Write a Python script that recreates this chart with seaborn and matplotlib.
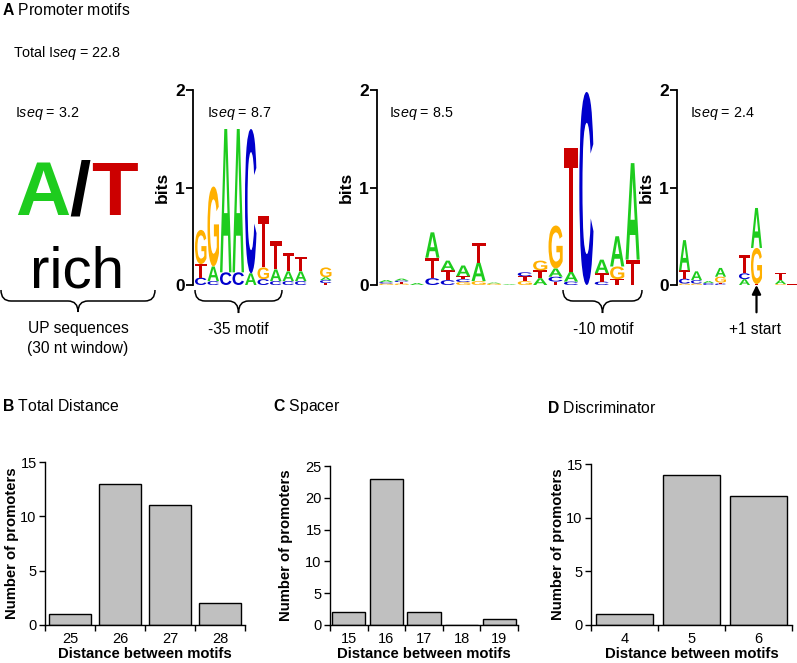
import numpy as np
import matplotlib
matplotlib.use("Agg")
import matplotlib.pyplot as plt
from matplotlib.textpath import TextPath
from matplotlib.font_manager import FontProperties
from matplotlib.patches import PathPatch
from matplotlib.path import Path
from matplotlib.transforms import Affine2D
import seaborn as sns

# histogram data (panels B, C, D)
total_dist = ["25", "26", "27", "28"]
total_count = [1, 13, 11, 2]
spacer_dist = ["15", "16", "17", "18", "19"]
spacer_count = [2, 23, 2, 0, 1]
discr_dist = ["4", "5", "6"]
discr_count = [1, 14, 12]

# sequence logos: letters per column bottom -> top, heights in bits
m35_letters = ["CTG", "CAG", "CA", "CA", "AC", "CGT", "CAT", "CAT", "CAT", "", "TCAG"]
m35_bits = [[.075, .14, .35], [.04, .15, .82], [.13, 1.47], [.13, 1.47], [.12, 1.48],
            [.06, .12, .53], [.04, .12, .29], [.04, .10, .19], [.04, .10, .15], [],
            [.02, .03, .03, .10]]

m10_letters = ["GCA", "GTCA", "A", "CTA", "CTA", "GCTA", "GAT", "GA", "A",
               "GTC", "ATG", "TCAG", "CAT", "C", "CTA", "TGA", "TA"]
m10_bits = [[.015, .015, .02], [.015, .015, .015, .02], [.02], [.07, .21, .26],
            [.05, .10, .10], [.03, .03, .03, .11], [.04, .19, .20], [.015, .01], [.008],
            [.04, .05, .04], [.07, .08, .10], [.035, .05, .085, .44], [.035, .10, 1.27],
            [1.98], [.035, .085, .14], [.06, .13, .31], [.26, .99]]

start_letters = ["GCTA", "GCA", "CA", "CTGA", "", "ACT", "TGA", "", "GAT", "T"]
start_bits = [[.015, .05, .085, .31], [.015, .035, .09], [.02, .02], [.015, .01, .06, .09],
              [], [.06, .06, .19], [.01, .37, .41], [], [.01, .04, .07], [.006]]

iseq_total = "22.8"
iseq_values = ["3.2", "8.7", "8.5", "2.4"]

base_colors = {"A": "#1ECC1E", "C": "#0000CC", "G": "#FFB000", "T": "#CC0000"}

sns.set_style("ticks")
plt.rcParams['font.family'] = ['Liberation Sans', 'DejaVu Sans']
plt.rcParams['mathtext.fontset'] = 'custom'
plt.rcParams['mathtext.rm'] = 'Liberation Sans'
plt.rcParams['mathtext.it'] = 'Liberation Sans:italic'
plt.rcParams['mathtext.bf'] = 'Liberation Sans:bold'
for k in ['text.color', 'axes.labelcolor', 'xtick.color', 'ytick.color', 'axes.edgecolor']:
    plt.rcParams[k] = 'black'

W, H = 797, 663
fig = plt.figure(figsize=(W / 100, H / 100), dpi=100)


def rect(left, top, right, bottom):
    # pixel box -> figure fraction
    return [left / W, 1 - bottom / H, (right - left) / W, (bottom - top) / H]


bold_font = FontProperties(family='Liberation Sans', weight='bold')
glyphs = {}


def draw_letter(ax, ch, x, y, w, h):
    if ch not in glyphs:
        glyphs[ch] = TextPath((0, 0), ch, size=1, prop=bold_font)
    p = glyphs[ch]
    bb = p.get_extents()
    tr = Affine2D().translate(-bb.x0, -bb.y0).scale(w / bb.width, h / bb.height).translate(x - w / 2, y)
    ax.add_patch(PathPatch(tr.transform_path(p), facecolor=base_colors[ch], edgecolor='none',
                           transform=ax.transData, clip_on=False))


def logo_axes(box, ncol, colw_px):
    ax = fig.add_axes(rect(*box))
    left_pad = 1.5 / colw_px
    ax.set_xlim(0.5 - left_pad, ncol + 0.5)
    ax.set_ylim(0, 2)
    for s in ['top', 'right', 'bottom']:
        ax.spines[s].set_visible(False)
    ax.spines['left'].set_linewidth(1.3)
    ax.set_xticks([])
    ax.set_yticks([0, 1, 2])
    ax.set_yticklabels(["0", "1", "2"], fontsize=12.5, fontweight='bold')
    ax.tick_params(axis='y', length=5, width=1.3, pad=1)
    ax.set_ylabel("bits", fontsize=12.5, fontweight='bold', labelpad=4)
    ax.patch.set_alpha(0)
    return ax


def draw_logo(ax, letters, bits):
    for i, (col, hs) in enumerate(zip(letters, bits), start=1):
        y = 0
        for ch, h in zip(col, hs):
            draw_letter(ax, ch, i, y, 0.92, h)
            y += h


ax35 = logo_axes((193, 90, 193 + 1.5 + 11 * 12.5, 285), len(m35_letters), 12.5)
draw_logo(ax35, m35_letters, m35_bits)
ax10 = logo_axes((377, 90, 377 + 1.5 + 17 * 15.4, 285), len(m10_letters), 15.4)
draw_logo(ax10, m10_letters, m10_bits)
axst = logo_axes((677, 90, 677 + 1.5 + 10 * 12.0, 285), len(start_letters), 12.0)
draw_logo(axst, start_letters, start_bits)
axst.annotate("", xy=(7, 0.0), xytext=(7, -0.28), xycoords='data', textcoords='data',
              annotation_clip=False,
              arrowprops=dict(arrowstyle='-|>', color='black', lw=1.6, mutation_scale=13,
                              shrinkA=0, shrinkB=0))


def bar_panel(box, cats, vals, ymax, labelpad, width):
    ax = fig.add_axes(rect(*box))
    sns.barplot(x=cats, y=vals, ax=ax, color='#C0C0C0', edgecolor='black', linewidth=1,
                width=width, saturation=1)
    n = len(cats)
    ax.set_xlim(-0.5, n - 0.5)
    ax.set_ylim(0, ymax)
    ax.set_yticks(np.arange(0, ymax + 1, 5))
    ax.set_xticks(np.arange(-0.5, n), minor=True)
    ax.tick_params(axis='x', which='major', length=0, pad=5, labelsize=10.5)
    ax.tick_params(axis='x', which='minor', length=4, width=1)
    ax.tick_params(axis='y', length=4, width=1, labelsize=10.5, pad=2)
    sns.despine(ax=ax)
    ax.spines['left'].set_linewidth(1)
    ax.spines['bottom'].set_linewidth(1)
    ax.set_xlabel("Distance between motifs", fontsize=10.7, fontweight='bold', labelpad=0.5)
    ax.set_ylabel("Number of promoters", fontsize=10.7, fontweight='bold', labelpad=labelpad)
    return ax


bar_panel((45, 462, 245, 625), total_dist, total_count, 15, 1, 0.84)
bar_panel((330, 466, 518, 625), spacer_dist, spacer_count, 25, 9, 0.88)
bar_panel((591, 464, 792, 625), discr_dist, discr_count, 15, 1, 0.84)

# overlay in pixel coordinates for annotations
ov = fig.add_axes([0, 0, 1, 1], zorder=10)
ov.set_xlim(0, W)
ov.set_ylim(H, 0)
ov.axis('off')
ov.patch.set_alpha(0)


def brace(x0, x1, y0, ym, yt, r=10):
    xm = (x0 + x1) / 2
    verts = [(x0, y0), (x0, ym), (x0 + r, ym), (xm - r, ym), (xm, ym), (xm, yt),
             (xm, ym), (xm + r, ym), (x1 - r, ym), (x1, ym), (x1, y0)]
    codes = [Path.MOVETO, Path.CURVE3, Path.CURVE3, Path.LINETO, Path.CURVE3, Path.CURVE3,
             Path.CURVE3, Path.CURVE3, Path.LINETO, Path.CURVE3, Path.CURVE3]
    ov.add_patch(PathPatch(Path(verts, codes), facecolor='none', edgecolor='black', lw=1.1))


ov.text(2, 10, r"$\mathbf{A}$ Promoter motifs", fontsize=11.3, va='center', ha='left')
ov.text(13, 53, r"Total I$\mathit{seq}$ = " + iseq_total, fontsize=10.3, va='center')
ov.text(15, 113, r"I$\mathit{seq}$ = " + iseq_values[0], fontsize=10.3, va='center')
ov.text(207, 113, r"I$\mathit{seq}$ = " + iseq_values[1], fontsize=10.3, va='center')
ov.text(389, 113, r"I$\mathit{seq}$ = " + iseq_values[2], fontsize=10.3, va='center')
ov.text(690, 113, r"I$\mathit{seq}$ = " + iseq_values[3], fontsize=10.3, va='center')

ov.text(15, 215, "A", fontsize=55, fontweight='bold', color=base_colors["A"], va='baseline')
ov.text(69, 215, "/", fontsize=55, fontweight='bold', color='black', va='baseline')
ov.text(91, 215, "T", fontsize=55, fontweight='bold', color=base_colors["T"], va='baseline')
ov.text(77, 287, "rich", fontsize=42, ha='center', va='baseline')

brace(1, 155, 290, 301, 312)
ov.text(78, 328, "UP sequences", fontsize=11.2, ha='center', va='center')
ov.text(78, 348, "(30 nt window)", fontsize=11.2, ha='center', va='center')
brace(195, 282, 290, 301, 313)
ov.text(238, 329, "-35 motif", fontsize=11.2, ha='center', va='center')
brace(563, 642, 290, 301, 313)
ov.text(603, 329, "-10 motif", fontsize=11.2, ha='center', va='center')
ov.text(755, 329, "+1 start", fontsize=11.2, ha='center', va='center')

ov.text(2, 406, r"$\mathbf{B}$ Total Distance", fontsize=11.3, va='center')
ov.text(273, 407, r"$\mathbf{C}$ Spacer", fontsize=11.3, va='center')
ov.text(547, 408, r"$\mathbf{D}$ Discriminator", fontsize=11.3, va='center')

fig.savefig("out.png", dpi=100)
